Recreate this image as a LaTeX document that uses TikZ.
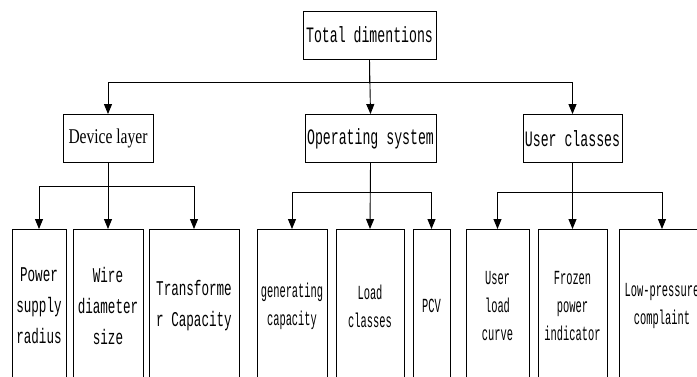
\documentclass[tikz,border=0pt]{standalone}
\usepackage{fontspec}
\newfontfamily\widemono[FakeStretch=0.6]{Liberation Mono}
\newfontfamily\slimmono[FakeStretch=0.52]{Liberation Mono}
\newfontfamily\slimserif[FakeStretch=0.74]{Liberation Serif}
\usetikzlibrary{arrows.meta}

\begin{document}
\begin{tikzpicture}[x=1pt,y=-1pt,>={Triangle[length=10pt,width=8pt]},line width=0.9pt,
  hbox/.style={draw,minimum height=48pt,inner sep=0pt,font=\widemono\fontsize{22}{24}\selectfont},
  leafbig/.style={draw,anchor=north,minimum height=153pt,inner sep=0pt,align=center,
    font=\widemono\fontsize{21}{31}\selectfont},
  leafsmall/.style={draw,anchor=north,minimum height=153pt,inner sep=0pt,align=center,
    font=\slimmono\fontsize{20}{28}\selectfont}]
\useasboundingbox (0,0) rectangle (697,376);
\clip (0,0) rectangle (697,376);
% top and second level, pixel coords (y grows downwards)
\node[hbox,minimum width=133pt] (total) at (369.5,35) {Total dimentions};
\node[hbox,minimum width=90pt,font=\slimserif\fontsize{21}{24}\selectfont] (dev) at (108,138.5) {Device layer};
\node[hbox,minimum width=131pt] (opsys) at (370.5,138.5) {Operating system};
\node[hbox,minimum width=99pt] (user) at (572.5,138.5) {User classes};
% leaves, tops at y=229, bottoms run off the page
\node[leafbig,minimum width=54pt] (radius) at (39,229) {Power\\supply\\radius};
\node[leafbig,minimum width=70pt] (wire) at (108,229) {Wire\\diameter\\size};
\node[leafbig,minimum width=90pt] (trans) at (194,229) {Transforme\\r Capacity};
\node[leafsmall,minimum width=70pt] (gencap) at (292,229) {generating\\capacity};
\node[leafsmall,minimum width=68pt] (load) at (370,229) {Load\\classes};
\node[leafsmall,minimum width=37pt] (pcv) at (431.5,229) {PCV};
\node[leafsmall,minimum width=63pt] (curve) at (497.5,229) {User\\load\\curve};
\node[leafsmall,minimum width=69pt] (frozen) at (572.5,229) {Frozen\\power\\indicator};
\node[leafsmall,minimum width=86pt] (lowp) at (662,229) {Low-pressure\\complaint};
% bus levels
\coordinate (busA) at (0,82);
\coordinate (busD) at (0,186);
\coordinate (busO) at (0,192);
\coordinate (busU) at (0,192);
% connectors
\draw[->] (total.south) -- (opsys.north);
\draw[->] (total.south) -- (total.south |- busA) -| (dev.north);
\draw[->] (total.south) -- (total.south |- busA) -| (user.north);
\draw[->] (dev.south) -- (wire.north);
\draw[->] (dev.south) -- (dev.south |- busD) -| (radius.north);
\draw[->] (dev.south) -- (dev.south |- busD) -| (trans.north);
\draw[->] (opsys.south) -- (load.north);
\draw[->] (opsys.south) -- (opsys.south |- busO) -| (gencap.north);
\draw[->] (opsys.south) -- (opsys.south |- busO) -| (pcv.north);
\draw[->] (user.south) -- (frozen.north);
\draw[->] (user.south) -- (user.south |- busU) -| (curve.north);
\draw[->] (user.south) -- (user.south |- busU) -| (lowp.north);
\end{tikzpicture}
\end{document}
